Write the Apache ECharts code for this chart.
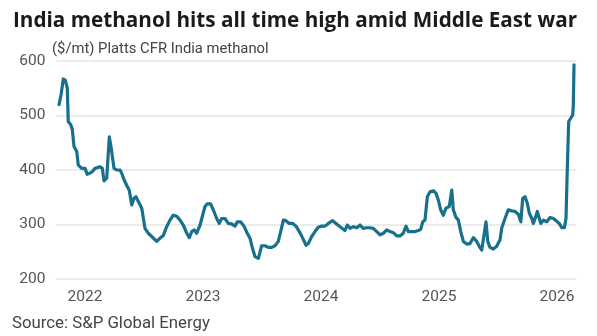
<!DOCTYPE html>
<html>
<head>
<meta charset="utf-8">
<script src="https://cdn.jsdelivr.net/npm/echarts@6/dist/echarts.min.js"></script>
<style>
html,body{margin:0;padding:0;background:#fff;}
#chart{width:597px;height:336px;}
</style>
</head>
<body>
<div id="chart"></div>
<script>
const dates = [
2021.780,2021.797,2021.816,2021.833,2021.850,2021.858,2021.879,2021.892,2021.907,2021.930,
2021.943,2021.972,2022.000,2022.019,2022.057,2022.085,2022.127,2022.147,2022.161,2022.184,
2022.206,2022.220,2022.235,2022.246,2022.269,2022.297,2022.311,2022.331,2022.353,2022.375,
2022.396,2022.415,2022.432,2022.452,2022.481,2022.508,2022.536,2022.565,2022.579,2022.608,
2022.636,2022.664,2022.692,2022.720,2022.748,2022.777,2022.805,2022.833,2022.862,2022.884,
2022.904,2022.926,2022.947,2022.975,2022.997,2023.017,2023.036,2023.065,2023.087,2023.116,
2023.138,2023.158,2023.186,2023.214,2023.243,2023.271,2023.291,2023.319,2023.347,2023.375,
2023.398,2023.421,2023.441,2023.469,2023.497,2023.525,2023.553,2023.582,2023.610,2023.638,
2023.658,2023.681,2023.703,2023.731,2023.760,2023.788,2023.816,2023.845,2023.873,2023.892,
2023.921,2023.949,2023.977,2024.006,2024.034,2024.062,2024.099,2024.127,2024.161,2024.203,
2024.223,2024.246,2024.274,2024.303,2024.331,2024.358,2024.387,2024.415,2024.443,2024.472,
2024.500,2024.528,2024.557,2024.585,2024.613,2024.642,2024.669,2024.697,2024.720,2024.740,
2024.769,2024.797,2024.825,2024.845,2024.862,2024.881,2024.901,2024.924,2024.952,2024.975,
2024.994,2025.014,2025.036,2025.059,2025.087,2025.108,2025.121,2025.144,2025.164,2025.184,
2025.206,2025.235,2025.263,2025.291,2025.319,2025.341,2025.362,2025.375,2025.398,2025.413,
2025.432,2025.460,2025.489,2025.517,2025.531,2025.559,2025.587,2025.616,2025.644,2025.672,
2025.693,2025.709,2025.729,2025.748,2025.765,2025.786,2025.799,2025.819,2025.833,2025.850,
2025.862,2025.884,2025.913,2025.941,2025.969,2025.997,2026.019,2026.040,2026.062,2026.076,
2026.087,2026.099,2026.116,2026.133,2026.138,2026.144
];
// Platts CFR India methanol, $/mt
const prices = [
520,538,567,565,550,489,483,475,443,434,
409,403,403,392,396,403,406,403,380,385,
461,443,440,403,400,400,394,382,372,363,
336,348,351,342,330,293,284,278,275,269,
275,280,296,308,317,315,308,299,284,276,
287,290,284,299,317,333,338,338,327,311,
302,311,311,302,301,297,305,305,297,284,
275,255,241,238,261,261,258,258,261,269,
287,308,307,302,302,297,287,275,262,265,
278,287,295,297,297,302,307,302,296,289,
299,293,296,294,299,293,294,294,293,287,
281,284,290,287,285,279,279,284,297,287,
287,287,289,291,305,308,351,360,362,357,
345,327,317,330,333,363,327,313,308,287,
269,264,265,276,269,260,253,256,305,269,
258,255,260,272,293,311,327,325,324,319,
305,348,351,339,321,311,302,314,324,311,
302,308,305,313,311,306,302,294,294,311,
403,489,495,501,519,593
];
const yearLabels = ['2022','2023','2024','2025','2026'];
const yTicks = [200,300,400,500,600];

const titleText = 'India methanol hits all time high amid Middle East war';
const subtitleText = '($/mt) Platts CFR India methanol';
const sourceText = 'Source: S&P Global Energy';

const FONT = 'Roboto, "Noto Sans", sans-serif';
const TITLE_FONT = '"Open Sans", Roboto, sans-serif';
const chart = echarts.init(document.getElementById('chart'), null, {renderer:'canvas'});
const seriesData = dates.map((d,i)=>[d, prices[i]]);

chart.setOption({
  animation:false,
  backgroundColor:'#ffffff',
  textStyle:{fontFamily:FONT},
  title:[
    {text:titleText, left:8, top:6, textStyle:{fontFamily:TITLE_FONT, fontSize:20.7, fontWeight:'bold', color:'#1a1a1a'}},
    {text:subtitleText, left:47, top:37, textStyle:{fontFamily:FONT, fontSize:14.8, fontWeight:'normal', color:'#444'}},
    {text:sourceText, left:7, top:310, textStyle:{fontFamily:FONT, fontSize:16.8, fontWeight:'normal', color:'#444'}}
  ],
  grid:{left:55.5, right:20.3, top:61, bottom:57, containLabel:false},
  xAxis:{
    type:'value',
    min:2021.75,
    max:2026 + 2/12,
    interval:1/12,
    axisLine:{show:false},
    axisTick:{show:false},
    splitLine:{show:false},
    axisLabel:{
      color:'#555', fontSize:15.5, fontFamily:FONT, margin:10, showMinLabel:true, showMaxLabel:true,
      formatter:function(v){
        const r = Math.round(v);
        if (Math.abs(v - r) < 1e-4) {
          const s = String(r);
          return yearLabels.indexOf(s) >= 0 ? s : '';
        }
        return '';
      }
    }
  },
  yAxis:{
    type:'value',
    min:yTicks[0],
    max:yTicks[yTicks.length-1],
    interval:100,
    axisLine:{show:false},
    axisTick:{show:false},
    splitLine:{lineStyle:{color:'#e6e6e6', width:1.5}},
    axisLabel:{color:'#555', fontSize:15.5, fontFamily:FONT, margin:10}
  },
  series:[{
    type:'line',
    data:seriesData,
    showSymbol:false,
    lineStyle:{color:'#17708c', width:3.2, join:'round', cap:'round'},
    itemStyle:{color:'#17708c'}
  }]
});
</script>
</body>
</html>
